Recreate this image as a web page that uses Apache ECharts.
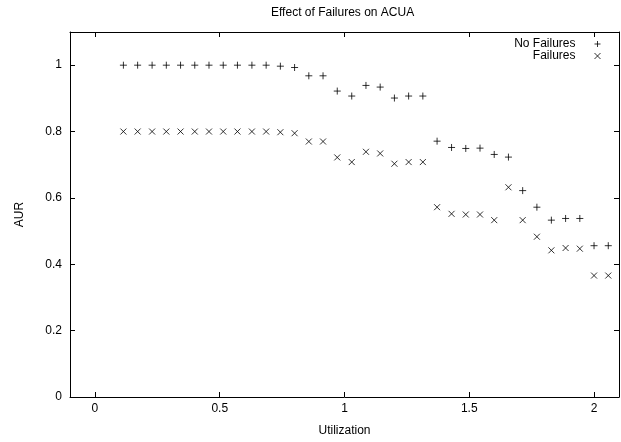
<!DOCTYPE html>
<html>
<head>
<meta charset="utf-8">
<script src="https://cdn.jsdelivr.net/npm/echarts@6/dist/echarts.min.js"></script>
<style>
  html, body { margin: 0; padding: 0; background: #fff; }
  #chart { width: 621px; height: 442px; }
</style>
</head>
<body>
<div id="chart"></div>
<script>
// Utilization levels shared by both series
var utilization = [
  0.114, 0.171, 0.229, 0.286, 0.343, 0.400, 0.457, 0.514, 0.571, 0.629,
  0.686, 0.743, 0.800, 0.857, 0.914, 0.971, 1.029, 1.086, 1.143, 1.200,
  1.257, 1.314, 1.371, 1.429, 1.486, 1.543, 1.600, 1.657, 1.714, 1.771,
  1.829, 1.886, 1.943, 2.000, 2.057
];

// AUR without failures
var aurNoFailures = [
  1.000, 1.000, 1.000, 1.000, 1.000, 1.000, 1.000, 1.000, 1.000, 1.000,
  1.000, 0.997, 0.993, 0.968, 0.968, 0.922, 0.907, 0.939, 0.934, 0.901,
  0.907, 0.907, 0.771, 0.752, 0.749, 0.750, 0.731, 0.723, 0.622, 0.572,
  0.533, 0.538, 0.538, 0.456, 0.456
];

// AUR with failures
var aurFailures = [
  0.800, 0.800, 0.800, 0.800, 0.800, 0.800, 0.800, 0.800, 0.800, 0.800,
  0.800, 0.798, 0.795, 0.770, 0.770, 0.722, 0.708, 0.739, 0.734, 0.703,
  0.708, 0.708, 0.572, 0.552, 0.550, 0.550, 0.533, 0.632, 0.533, 0.483,
  0.442, 0.449, 0.447, 0.366, 0.366
];

var xTicks = [0, 0.5, 1, 1.5, 2];
var xTickLabels = ['0', '0.5', '1', '1.5', '2'];
var yTicks = [0, 0.2, 0.4, 0.6, 0.8, 1];
var yTickLabels = ['0', '0.2', '0.4', '0.6', '0.8', '1'];

var seriesNames = ['No Failures', 'Failures'];

function pairs(xs, ys) {
  return xs.map(function (x, i) { return [x, ys[i]]; });
}

var plusPath = 'path://M5,0L5,10M0,5L10,5';
var crossPath = 'path://M0,0L10,10M10,0L0,10';
var font = 'Liberation Sans, Arial, Helvetica, sans-serif';

var markStyle = { color: 'transparent', borderColor: '#000', borderWidth: 1 };

function xLabel(v) {
  var i = xTicks.indexOf(v);
  return i >= 0 ? xTickLabels[i] : '';
}
function yLabel(v) {
  for (var i = 0; i < yTicks.length; i++) {
    if (Math.abs(yTicks[i] - v) < 1e-9) return yTickLabels[i];
  }
  return '';
}

var chart = echarts.init(document.getElementById('chart'), null, { renderer: 'canvas' });

var tickCommon = { show: true, inside: true, length: 5, lineStyle: { color: '#000', width: 1 } };
var lineCommon = { show: true, onZero: false, lineStyle: { color: '#000', width: 1 } };

chart.setOption({
  animation: false,
  backgroundColor: '#fff',
  title: {
    text: 'Effect of Failures on ACUA',
    left: 271,
    top: 7,
    padding: 0,
    textStyle: { fontFamily: font, fontSize: 12, fontWeight: 'normal', color: '#000' }
  },
  legend: {
    orient: 'vertical',
    right: 20,
    top: 38,
    padding: 0,
    align: 'right',
    itemWidth: 34,
    itemHeight: 6,
    itemGap: 0,
    textStyle: { fontFamily: font, fontSize: 12, color: '#000', lineHeight: 11 },
    data: [
      { name: seriesNames[0], icon: plusPath, itemStyle: markStyle },
      { name: seriesNames[1], icon: crossPath, itemStyle: markStyle }
    ]
  },
  grid: { left: 70, right: 2, top: 32, bottom: 39, show: false },
  xAxis: [
    {
      type: 'value', min: -0.1, max: 2.1, position: 'bottom',
      name: 'Utilization', nameLocation: 'middle', nameGap: 28,
      nameTextStyle: { fontFamily: font, fontSize: 12, color: '#000' },
      axisLine: lineCommon,
      axisTick: Object.assign({ customValues: xTicks }, tickCommon),
      axisLabel: { customValues: xTicks, formatter: xLabel, margin: 6,
        fontFamily: font, fontSize: 12, color: '#000' },
      splitLine: { show: false }
    },
    {
      type: 'value', min: -0.1, max: 2.1, position: 'top',
      axisLine: lineCommon,
      axisTick: Object.assign({ customValues: xTicks }, tickCommon),
      axisLabel: { show: false },
      splitLine: { show: false }
    }
  ],
  yAxis: [
    {
      type: 'value', min: 0, max: 1.1, position: 'left',
      name: 'AUR', nameLocation: 'middle', nameGap: 44,
      nameTextStyle: { fontFamily: font, fontSize: 12, color: '#000' },
      axisLine: lineCommon,
      axisTick: Object.assign({ customValues: yTicks }, tickCommon),
      axisLabel: { customValues: yTicks, formatter: yLabel, margin: 8,
        fontFamily: font, fontSize: 12, color: '#000' },
      splitLine: { show: false }
    },
    {
      type: 'value', min: 0, max: 1.1, position: 'right',
      axisLine: lineCommon,
      axisTick: Object.assign({ customValues: yTicks }, tickCommon),
      axisLabel: { show: false },
      splitLine: { show: false }
    }
  ],
  series: [
    {
      name: seriesNames[0], type: 'scatter',
      xAxisIndex: 0, yAxisIndex: 0,
      symbol: plusPath, symbolSize: 7,
      itemStyle: markStyle,
      data: pairs(utilization, aurNoFailures)
    },
    {
      name: seriesNames[1], type: 'scatter',
      xAxisIndex: 0, yAxisIndex: 0,
      symbol: crossPath, symbolSize: 6,
      itemStyle: markStyle,
      data: pairs(utilization, aurFailures)
    }
  ]
});
</script>
</body>
</html>
